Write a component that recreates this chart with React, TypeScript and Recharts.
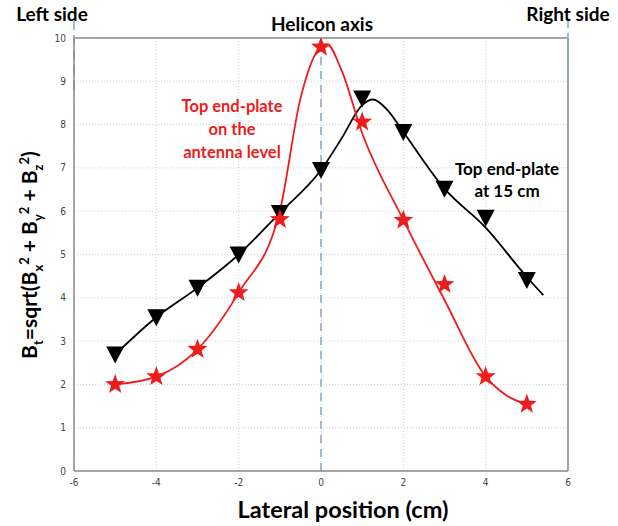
import {
  CartesianGrid,
  ComposedChart,
  Line,
  ReferenceLine,
  Scatter,
  XAxis,
  YAxis,
} from "recharts";

// lateral positions (cm) of the probe measurements
const positions = [-5, -4, -3, -2, -1, 0, 1, 2, 3, 4, 5];
// measured |B|, top end-plate at 15 cm (black triangles)
const plateAt15 = [2.69, 3.55, 4.23, 5.0, 5.96, 6.95, 8.6, 7.83, 6.52, 5.85, 4.41];
// measured |B|, top end-plate on the antenna level (red stars)
const antennaLevel = [2.0, 2.18, 2.81, 4.12, 5.81, 9.79, 8.06, 5.79, 4.31, 2.18, 1.54];

// the smooth fitted curves (they do not hit every marker)
const plateFitX = [-5, -4, -3, -2, -1, 0, 0.5, 1, 1.26, 1.62, 2, 3, 4, 5, 5.4];
const plateFitY = [2.69, 3.55, 4.23, 5.0, 5.96, 6.95, 7.68, 8.45, 8.58, 8.33, 7.83, 6.52, 5.62, 4.48, 4.06];
const antennaFitX = [-5, -4, -3, -2, -1, -0.5, 0, 0.15, 0.5, 1, 2, 3, 4, 4.5, 5];
const antennaFitY = [2.0, 2.18, 2.81, 4.12, 6.0, 8.6, 9.8, 9.85, 9.25, 7.8, 5.8, 3.95, 2.18, 1.75, 1.54];

const xTicks = [-6, -4, -2, 0, 2, 4, 6];
const yTicks = [0, 1, 2, 3, 4, 5, 6, 7, 8, 9, 10];

const plateMarks = positions.map((x, i) => ({ x, y: plateAt15[i] }));
const antennaMarks = positions.map((x, i) => ({ x, y: antennaLevel[i] }));
const plateFit = plateFitX.map((x, i) => ({ x, y: plateFitY[i] }));
const antennaFit = antennaFitX.map((x, i) => ({ x, y: antennaFitY[i] }));

const RED = "#ee1c1c";
const AXIS = "#8a8a8a";
const DASH_BLUE = "#8eabc6";
const tickFont = {
  fontSize: 10,
  fill: "#444",
  fontFamily: "'Liberation Sans Narrow', 'DejaVu Sans Condensed', sans-serif",
};
const boldFont = "Lato, 'Open Sans', sans-serif";

function Triangle(props: any) {
  const { cx, cy } = props;
  const w = 9;
  return (
    <path
      d={`M${cx - w},${cy - 8} L${cx + w},${cy - 8} L${cx},${cy + 9} Z`}
      fill="#000"
    />
  );
}

function Star(props: any) {
  const { cx, cy } = props;
  const pts: string[] = [];
  for (let k = 0; k < 10; k++) {
    const r = k % 2 === 0 ? 10.5 : 4.3;
    const a = -Math.PI / 2 + (k * Math.PI) / 5;
    pts.push(`${cx + r * Math.cos(a)},${cy + r * Math.sin(a)}`);
  }
  return <polygon points={pts.join(" ")} fill={RED} />;
}

const overlay = (
  left: number,
  top: number,
  size: number,
  lineHeight: number,
  color: string,
  lines: string[],
) => (
  <div
    style={{
      position: "absolute",
      left,
      top,
      transform: "translateX(-50%)",
      fontFamily: boldFont,
      fontWeight: 700,
      fontSize: size,
      lineHeight: `${lineHeight}px`,
      color,
      textAlign: "center",
      whiteSpace: "nowrap",
    }}
  >
    {lines.map((l) => (
      <div key={l}>{l}</div>
    ))}
  </div>
);

export default function App() {
  return (
    <div
      style={{
        position: "fixed",
        left: 0,
        top: 0,
        width: 618,
        height: 526,
        background: "#fff",
      }}
    >
      <ComposedChart
        width={618}
        height={526}
        margin={{ top: 38, right: 50, bottom: 35, left: 44 }}
      >
        <CartesianGrid
          stroke="#cfcfcf"
          strokeDasharray="1 2"
          horizontalValues={yTicks}
          verticalValues={xTicks}
        />
        <XAxis
          type="number"
          dataKey="x"
          domain={[-6, 6]}
          ticks={xTicks}
          tick={tickFont}
          tickLine={false}
          tickMargin={2}
          height={20}
          stroke={AXIS}
          strokeWidth={1.5}
          allowDataOverflow
        />
        <YAxis
          type="number"
          dataKey="y"
          domain={[0, 10]}
          ticks={yTicks}
          tick={tickFont}
          tickLine={false}
          tickMargin={2}
          width={30}
          stroke={AXIS}
          strokeWidth={1.5}
          allowDataOverflow
        />
        {/* box: top and right edges */}
        <ReferenceLine y={10} stroke={AXIS} strokeWidth={1.5} />
        <ReferenceLine x={6} stroke={AXIS} strokeWidth={1.5} />
        {/* helicon axis and the two chamber walls */}
        <ReferenceLine
          x={0}
          stroke={DASH_BLUE}
          strokeWidth={1.6}
          strokeDasharray="8 6"
        />
        <ReferenceLine
          segment={[
            { x: -6, y: 8.8 },
            { x: -6, y: 10.4 },
          ]}
          stroke={DASH_BLUE}
          strokeWidth={1.6}
          strokeDasharray="10 5"
          ifOverflow="visible"
        />
        <ReferenceLine
          segment={[
            { x: 6, y: 9.2 },
            { x: 6, y: 10.4 },
          ]}
          stroke={DASH_BLUE}
          strokeWidth={1.6}
          strokeDasharray="10 5"
          ifOverflow="visible"
        />
        <Line
          data={plateFit}
          dataKey="y"
          type="monotone"
          stroke="#000"
          strokeWidth={1.8}
          dot={false}
          activeDot={false}
          isAnimationActive={false}
        />
        <Line
          data={antennaFit}
          dataKey="y"
          type="monotone"
          stroke={RED}
          strokeWidth={1.8}
          dot={false}
          activeDot={false}
          isAnimationActive={false}
        />
        <Scatter
          data={plateMarks}
          dataKey="y"
          shape={Triangle}
          isAnimationActive={false}
        />
        <Scatter
          data={antennaMarks}
          dataKey="y"
          shape={Star}
          isAnimationActive={false}
        />
      </ComposedChart>

      {overlay(52, 2, 19, 24, "#000", ["Left side"])}
      {overlay(322, 12, 19, 24, "#000", ["Helicon axis"])}
      {overlay(568, 2, 19, 24, "#000", ["Right side"])}
      {overlay(232, 95, 16.5, 23, RED, ["Top end-plate", "on the", "antenna level"])}
      {overlay(507, 158, 17, 22, "#000", ["Top end-plate", "at 15 cm"])}
      {overlay(343, 494, 23.5, 30, "#000", ["Lateral position (cm)"])}

      <div
        style={{
          position: "absolute",
          left: 31,
          top: 255,
          transform: "translate(-50%, -50%) rotate(-90deg)",
          fontFamily: boldFont,
          fontWeight: 700,
          fontSize: 21,
          whiteSpace: "nowrap",
          color: "#000",
        }}
      >
        B<sub style={{ fontSize: 13 }}>t</sub>=sqrt(B
        <sub style={{ fontSize: 13 }}>x</sub>
        <sup style={{ fontSize: 13 }}>2</sup> + B
        <sub style={{ fontSize: 13 }}>y</sub>
        <sup style={{ fontSize: 13 }}>2</sup> + B
        <sub style={{ fontSize: 13 }}>z</sub>
        <sup style={{ fontSize: 13 }}>2</sup>)
      </div>
    </div>
  );
}
